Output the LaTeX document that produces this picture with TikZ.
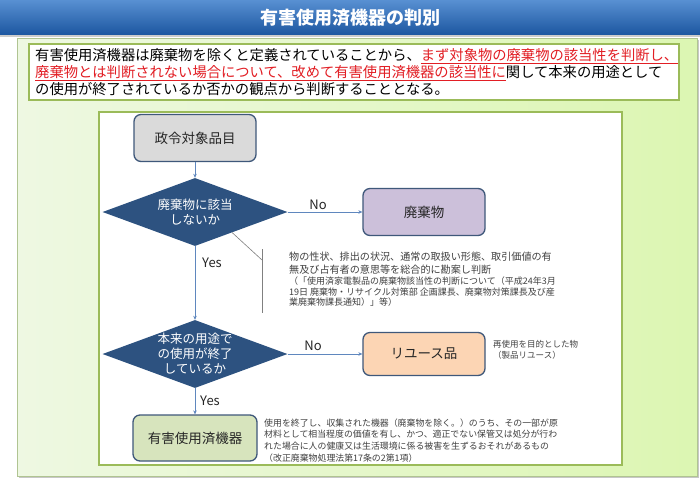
\documentclass[tikz,border=0pt]{standalone}
\usepackage{fontspec}
\setmainfont{Noto Sans CJK JP}
\usetikzlibrary{shapes.geometric,arrows.meta,calc}
\definecolor{titletop}{RGB}{88,144,210}
\definecolor{titlebot}{RGB}{28,86,160}
\definecolor{panelleft}{RGB}{238,248,226}
\definecolor{panelright}{RGB}{220,246,178}
\definecolor{panelline}{RGB}{176,196,146}
\definecolor{framegreen}{RGB}{155,187,89}
\definecolor{qblue}{RGB}{45,82,128}
\definecolor{boxline}{RGB}{63,88,122}
\definecolor{grayfill}{RGB}{218,218,218}
\definecolor{lavender}{RGB}{204,192,218}
\definecolor{peach}{RGB}{252,213,180}
\definecolor{olivefill}{RGB}{215,228,189}
\definecolor{arrowblue}{RGB}{95,135,190}
\definecolor{notegray}{RGB}{64,64,64}
\definecolor{markred}{RGB}{226,30,36}
\begin{document}
\begin{tikzpicture}[x=1pt,y=-1pt,
    stepbox/.style={draw=boxline,line width=1.3pt,rounded corners=7pt,minimum width=122pt,minimum height=47pt,font=\fontsize{13.5pt}{16pt}\selectfont,text=black!85},
    decision/.style={diamond,fill=qblue,minimum width=185pt,minimum height=68pt,inner sep=0pt},
    qtext/.style={align=center,text=white,font=\fontsize{12.5pt}{15pt}\selectfont},
    answer/.style={font=\fontsize{13pt}{15pt}\selectfont,text=black!85},
    note/.style={align=left,anchor=west,inner sep=0pt,text=notegray},
    flow/.style={draw=arrowblue,line width=0.6pt,-{Stealth[length=4pt,width=3.5pt]}}]
  \useasboundingbox (0,0) rectangle (700,485);
  \shade[top color=titletop,bottom color=titlebot] (0,0) rectangle (700,35);
  \fill[black!20] (0,35) rectangle (700,37);
  \node (title) at (350,18) [text=white,font=\bfseries\fontsize{18pt}{20pt}\selectfont] {有害使用済機器の判別};
  \fill[black!22] (19,40) rectangle (699,478);
  \shadedraw[left color=panelleft,right color=panelright,draw=panelline] (17,38) rectangle (697,476);
  \draw[framegreen,line width=1.2pt,fill=white] (29,44) rectangle (679,100);
  \node (lead) [anchor=west,inner sep=0pt,align=left,font=\fontsize{14.3pt}{17pt}\selectfont] at (35,72)
    {有害使用済機器は廃棄物を除くと定義されていることから、\textcolor{markred}{\underline{まず対象物の廃棄物の該当性を判断し、}}\\
     \textcolor{markred}{\underline{廃棄物とは判断されない場合について、改めて有害使用済機器の該当性に}}関して本来の用途として\\
     の使用が終了されているか否かの観点から判断することとなる。};
  \draw[framegreen,line width=1.2pt,fill=white] (99,112) rectangle (622,465);

  \node (item) [stepbox,fill=grayfill] at (195,138) {政令対象品目};
  \node (q1) [decision] at (195,212) {};
  \node (q1t) [qtext] at (195,212) {廃棄物に該当\\しないか};
  \node (waste) [stepbox,fill=lavender] at (424,212) {廃棄物};
  \node (q2) [decision] at (195,354) {};
  \node (q2t) [qtext] at (195,354) {本来の用途で\\の使用が終了\\しているか};
  \node (reuse) [stepbox,fill=peach,minimum height=43pt] at (424,354) {リユース品};
  \node (used) [stepbox,fill=olivefill,minimum width=124pt,minimum height=46pt] at (195,438) {有害使用済機器};

  \node (no1) [answer] at (318,205) {No};
  \node (yes1) [answer] at (212,263) {Yes};
  \node (no2) [answer] at (313,346) {No};
  \node (yes2) [answer] at (210,401) {Yes};

  \begin{scope}[flow]
    \draw (item.south) -- (q1.north);
    \draw (q1.east) -- (waste.west);
    \draw (q1.south) -- (q2.north);
    \draw (q2.east) -- (reuse.west);
    \draw (q2.south) -- (used.north);
  \end{scope}

  \coordinate (kink) at (262,260);
  \coordinate (btop) at (262,249);
  \coordinate (bbot) at (262,313);
  \draw[black!50,line width=0.6pt] ($(q1.south)!0.4!(q1.east)$) -- (kink);
  \draw[black!50,line width=0.6pt] (btop) -- (bbot);

  \node (crit) [note,anchor=north west,font=\fontsize{10.1pt}{13pt}\selectfont] at (289,252)
    {物の性状、排出の状況、通常の取扱い形態、取引価値の有\\無及び占有者の意思等を総合的に勘案し判断};
  \node (ref) [note,anchor=north west,font=\fontsize{9pt}{10.5pt}\selectfont] at ([yshift=-2pt]crit.south west)
    {（「使用済家電製品の廃棄物該当性の判断について（平成24年3月\\19日 廃棄物・リサイクル対策部 企画課長、廃棄物対策課長及び産\\業廃棄物課長通知）」等）};
  \node (reusenote) [note,font=\fontsize{8.5pt}{11pt}\selectfont] at (493,350)
    {再使用を目的とした物\\（製品リユース）};
  \node (usednote) [note,font=\fontsize{8.9pt}{11.8pt}\selectfont] at (264,440.5)
    {使用を終了し、収集された機器（廃棄物を除く。）のうち、その一部が原\\材料として相当程度の価値を有し、かつ、適正でない保管又は処分が行わ\\れた場合に人の健康又は生活環境に係る被害を生ずるおそれがあるもの\\（改正廃棄物処理法第17条の2第1項）};
\end{tikzpicture}
\end{document}
